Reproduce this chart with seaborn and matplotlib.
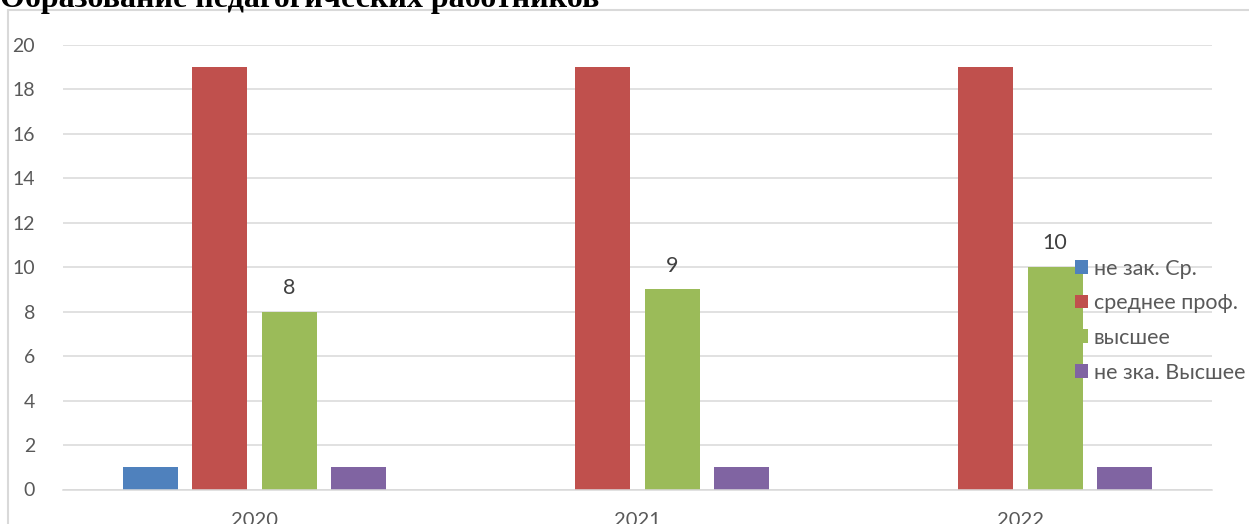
import matplotlib
matplotlib.use("Agg")
import matplotlib.pyplot as plt
from matplotlib.lines import Line2D
import seaborn as sns
import pandas as pd

years = ["2020", "2021", "2022"]
categories = ["не зак. Ср.", "среднее проф.", "высшее", "не зка. Высшее"]
values_ne_zak_sr = [1, 0, 0]
values_srednee = [19, 19, 19]
values_vysshee = [8, 9, 10]
values_ne_zka_vysshee = [1, 1, 1]
title = "Образование педагогических работников"
colors = ["#4F81BD", "#C0504D", "#9BBB59", "#8064A2"]

series = [values_ne_zak_sr, values_srednee, values_vysshee, values_ne_zka_vysshee]
rows = []
for cat, vals in zip(categories, series):
    for y, v in zip(years, vals):
        rows.append({"year": y, "category": cat, "value": v})
df = pd.DataFrame(rows)

sns.set_theme(style="white")
plt.rcParams["font.family"] = ["Lato", "DejaVu Sans"]

W, H = 1249, 524
fig = plt.figure(figsize=(W / 100, H / 100), dpi=100)
ax = fig.add_axes([63 / W, (H - 489.5) / H, 1149 / W, 444.5 / H])

sns.barplot(data=df, x="year", y="value", hue="category", hue_order=categories,
            palette=colors, width=0.724, gap=0.21, linewidth=0, saturation=1,
            errorbar=None, ax=ax)

ax.set_ylim(0, 20)
ax.set_xlim(-0.5, 2.5)
ax.set_yticks(range(0, 21, 2))
ax.grid(axis="y", color="#d9d9d9", linewidth=1.1)
ax.set_axisbelow(True)
for s in ["top", "right", "left"]:
    ax.spines[s].set_visible(False)
ax.spines["bottom"].set_color("#d9d9d9")
ax.spines["bottom"].set_linewidth(1.1)
ax.set_xlabel("")
ax.set_ylabel("")
ax.tick_params(axis="y", length=0, pad=20, labelsize=14, labelcolor="#595959")
ax.tick_params(axis="x", length=0, pad=16, labelsize=14.5, labelcolor="#595959")

# data labels only on the green series
ax.bar_label(ax.containers[2], fmt="%g", padding=10, fontsize=15.5, color="#404040")

handles, labels = ax.get_legend_handles_labels()
ax.get_legend().remove()
leg = fig.legend(handles, labels, loc="upper left",
                 bbox_to_anchor=(1066 / W, 1 - 250 / H), frameon=False,
                 fontsize=15.5, handlelength=0.6, handleheight=0.6,
                 handletextpad=0.3, labelspacing=0.68, borderaxespad=0)
for t in leg.get_texts():
    t.set_color("#595959")

# chart area frame
fig.add_artist(Line2D([8 / W, 8 / W], [0, 1 - 10 / H], color="#d9d9d9", linewidth=1.5,
                      transform=fig.transFigure))
fig.add_artist(Line2D([8 / W, 1], [1 - 10 / H, 1 - 10 / H], color="#d9d9d9", linewidth=1.5,
                      transform=fig.transFigure))

fig.text(0, 1 - 7 / H, title, family=["Liberation Serif"], fontweight="bold",
         fontsize=23, ha="left", va="baseline", color="black")

fig.savefig("out.png", dpi=100)
